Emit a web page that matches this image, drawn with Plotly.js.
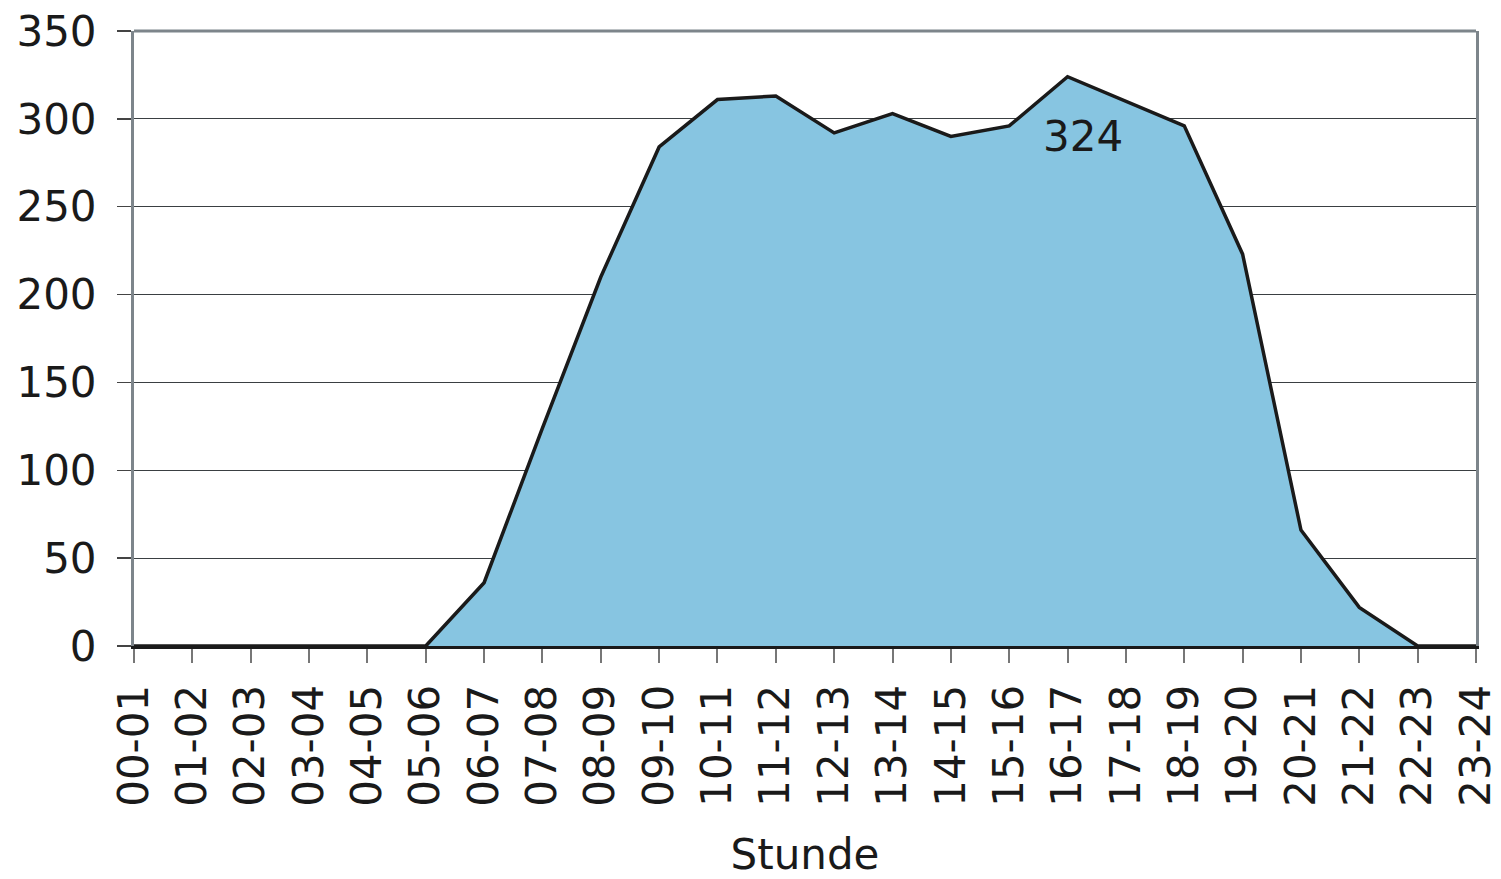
<!DOCTYPE html>
<html>
<head>
<meta charset="utf-8">
<script src="https://cdn.plot.ly/plotly-3.0.1.min.js"></script>
<style>html,body{margin:0;padding:0;background:#fff;}#chart{width:1501px;height:879px;}</style>
</head>
<body>
<div id="chart"></div>
<script>
const hours = ["00-01","01-02","02-03","03-04","04-05","05-06","06-07","07-08","08-09","09-10","10-11","11-12","12-13","13-14","14-15","15-16","16-17","17-18","18-19","19-20","20-21","21-22","22-23","23-24"];
const values = [0,0,0,0,0,0,36,124,210,284,311,313,292,303,290,296,324,310,296,223,66,22,0,0];
const peakLabel = "324";
const peakCategory = "16-17";
const peakValue = 324;
const yTicks = [0,50,100,150,200,250,300,350];

const font = "DejaVu Sans, Verdana, sans-serif";
const fsize = 42;
const trace = {
  type: "scatter",
  mode: "lines",
  x: hours,
  y: values,
  fill: "tozeroy",
  fillcolor: "#87c5e1",
  line: {color: "#1a1a1a", width: 3.5},
  hoverinfo: "x+y"
};
const layout = {
  width: 1501, height: 879,
  margin: {l: 134, r: 25, t: 31, b: 233},
  paper_bgcolor: "#ffffff",
  plot_bgcolor: "#ffffff",
  showlegend: false,
  font: {family: font, color: "#1a1a1a", size: fsize},
  xaxis: {
    type: "category",
    range: [0, 23],
    tickangle: -90,
    ticks: "outside", ticklen: 14, tickwidth: 2, tickcolor: "#777",
    ticklabelstandoff: 5,
    showgrid: false,
    showline: true, linecolor: "#1a1a1a", linewidth: 3,
    zeroline: false,
    tickfont: {family: font, size: fsize, color: "#1a1a1a"},
    title: {text: "Stunde", font: {family: font, size: fsize, color: "#1a1a1a"}, standoff: 34},
    fixedrange: true
  },
  yaxis: {
    range: [0, 350],
    tickvals: yTicks,
    ticktext: yTicks.map(String),
    ticks: "outside", ticklen: 14, tickwidth: 1.5, tickcolor: "#444",
    ticklabelstandoff: 12,
    showgrid: true, gridcolor: "#3a3f42", gridwidth: 1.2,
    showline: true, linecolor: "#7d858b", linewidth: 3, mirror: true,
    zeroline: false,
    tickfont: {family: font, size: fsize, color: "#1a1a1a"},
    fixedrange: true
  },
  shapes: [
    {type: "line", xref: "paper", yref: "paper", x0: 0, x1: 1, y0: 1, y1: 1, line: {color: "#7d858b", width: 3}}
  ],
  annotations: [
    {x: peakCategory, y: peakValue, text: peakLabel, showarrow: false, xshift: 15, yshift: -60,
     font: {family: font, size: fsize, color: "#1a1a1a"}}
  ]
};
Plotly.newPlot("chart", [trace], layout, {staticPlot: true});
</script>
</body>
</html>
